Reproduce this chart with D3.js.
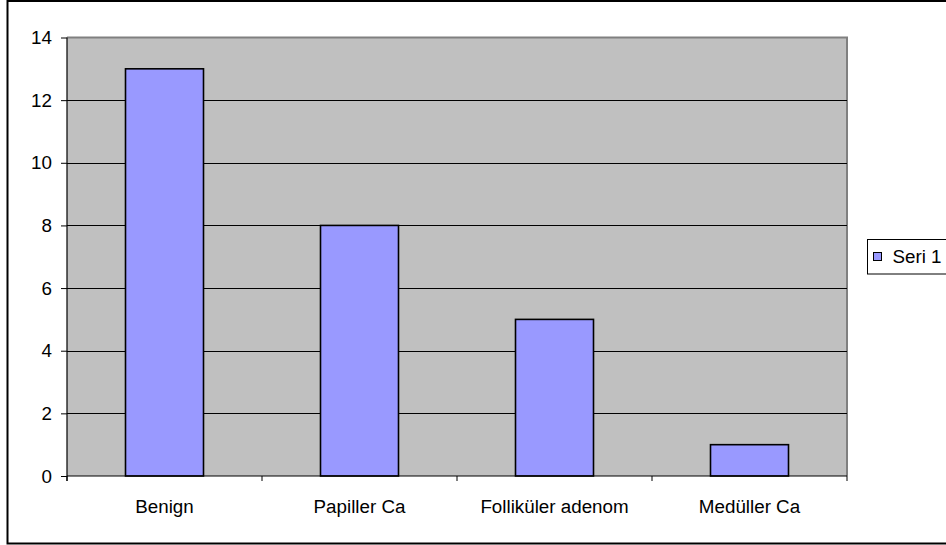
<!DOCTYPE html>
<html>
<head>
<meta charset="utf-8">
<script src="https://cdn.jsdelivr.net/npm/d3@7"></script>
<style>
  html, body { margin: 0; padding: 0; background: #fff; }
  svg { display: block; }
  text { font-family: "Liberation Sans", Arial, sans-serif; fill: #000; }
</style>
</head>
<body>
<svg id="chart" width="946" height="545"></svg>
<script>
// Categories and counts
const categories = ["Benign", "Papiller Ca", "Folliküler adenom", "Medüller Ca"];
const seriesName = "Seri 1";
const seriesValues = [13, 8, 5, 1];
const yTicks = [0, 2, 4, 6, 8, 10, 12, 14];

const svg = d3.select("#chart");
const W = 946, H = 545;
const plot = { left: 67, right: 847, top: 37.5, bottom: 476 };
const fontSize = 18.8;

// Outer frame of the chart (right edge runs past the window)
svg.append("rect")
  .attr("x", 7.5).attr("y", 1)
  .attr("width", W + 10).attr("height", 542.5)
  .attr("fill", "#fff").attr("stroke", "#000").attr("stroke-width", 2);

const x = d3.scaleBand()
  .domain(categories)
  .range([plot.left, plot.right])
  .paddingInner(0.6)
  .paddingOuter(0.3);

const y = d3.scaleLinear()
  .domain([0, 14])
  .range([plot.bottom, plot.top]);

// Plot area background
svg.append("rect")
  .attr("x", plot.left).attr("y", plot.top)
  .attr("width", plot.right - plot.left).attr("height", plot.bottom - plot.top)
  .attr("fill", "#c0c0c0");

// Gray border on top and right of the plot area
svg.append("path")
  .attr("d", `M${plot.left},${plot.top} H${plot.right} V${plot.bottom}`)
  .attr("fill", "none").attr("stroke", "#808080").attr("stroke-width", 2);

// Horizontal gridlines
svg.append("g")
  .selectAll("line")
  .data(yTicks.filter(t => t > 0 && t < 14))
  .join("line")
  .attr("x1", plot.left).attr("x2", plot.right)
  .attr("y1", d => Math.round(y(d)) + 0.5).attr("y2", d => Math.round(y(d)) + 0.5)
  .attr("stroke", "#000").attr("stroke-width", 1);

// Bars
svg.append("g")
  .selectAll("rect")
  .data(seriesValues)
  .join("rect")
  .attr("x", (d, i) => x(categories[i]))
  .attr("y", d => y(d))
  .attr("width", x.bandwidth())
  .attr("height", d => y(0) - y(d))
  .attr("fill", "#9999ff")
  .attr("stroke", "#000")
  .attr("stroke-width", 1.6);

// Y axis
const yAxis = d3.axisLeft(y)
  .tickValues(yTicks)
  .tickSize(6)
  .tickPadding(9)
  .tickFormat(d3.format("d"));
const gy = svg.append("g")
  .attr("transform", `translate(${plot.left},0)`)
  .call(yAxis);
gy.select(".domain").attr("stroke", "#000").attr("stroke-width", 1.2)
  .attr("d", `M0,${plot.top}V${plot.bottom + 5}`);
gy.selectAll(".tick line").attr("stroke", "#000");
gy.selectAll(".tick text")
  .style("font-family", "'Liberation Sans', Arial, sans-serif")
  .style("font-size", fontSize + "px")
  .attr("fill", "#000");

// X axis: labels centered under bars, tick marks at category boundaries
const step = x.step();
const boundaries = d3.range(categories.length + 1).map(i => plot.left + i * step);
const gx = svg.append("g");
gx.append("line")
  .attr("x1", plot.left).attr("x2", plot.right)
  .attr("y1", plot.bottom).attr("y2", plot.bottom)
  .attr("stroke", "#000").attr("stroke-width", 1.2);
gx.selectAll("line.tk")
  .data(boundaries)
  .join("line")
  .attr("class", "tk")
  .attr("x1", d => d).attr("x2", d => d)
  .attr("y1", plot.bottom).attr("y2", plot.bottom + 5)
  .attr("stroke", "#000").attr("stroke-width", 1);
gx.selectAll("text")
  .data(categories)
  .join("text")
  .attr("x", d => x(d) + x.bandwidth() / 2)
  .attr("y", 512.5)
  .attr("text-anchor", "middle")
  .style("font-size", fontSize + "px")
  .text(d => d);

// Legend
const lg = svg.append("g");
lg.append("rect")
  .attr("x", 867.5).attr("y", 239.5)
  .attr("width", 100).attr("height", 34.5)
  .attr("fill", "#fff").attr("stroke", "#000").attr("stroke-width", 1);
lg.append("rect")
  .attr("x", 873.5).attr("y", 252.5)
  .attr("width", 8).attr("height", 8)
  .attr("fill", "#9999ff").attr("stroke", "#000").attr("stroke-width", 1);
lg.append("text")
  .attr("x", 892.5).attr("y", 263)
  .style("font-size", fontSize + "px")
  .text(seriesName);
</script>
</body>
</html>
